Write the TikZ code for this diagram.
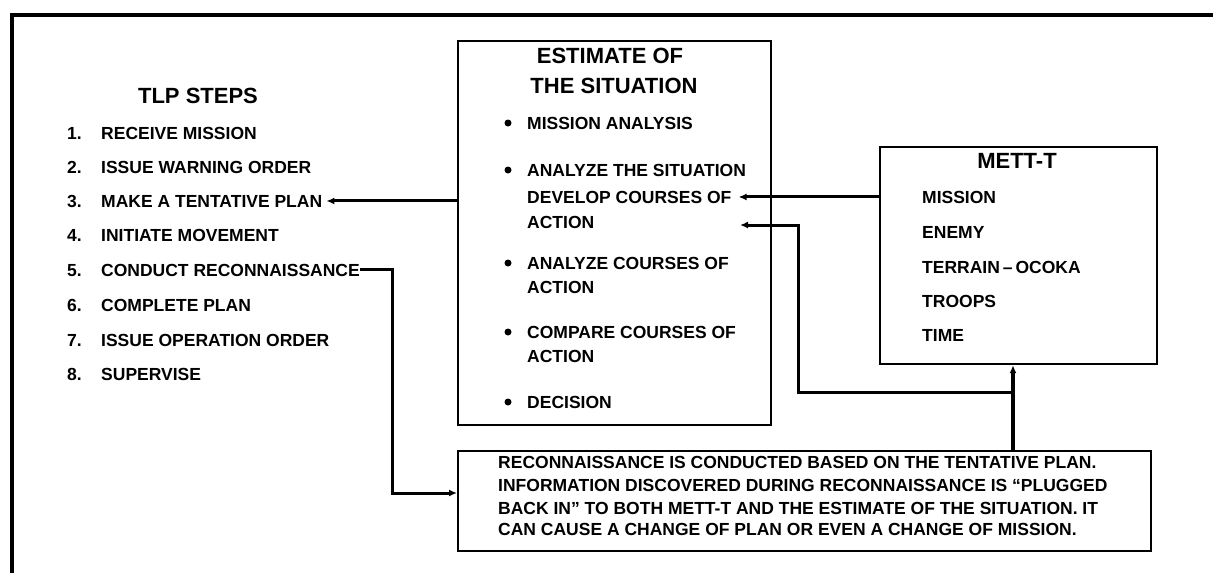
\documentclass[tikz,border=0pt]{standalone}
\usepackage{fontspec}
\setmainfont{Liberation Sans}
\usetikzlibrary{arrows.meta}
\begin{document}
\begin{tikzpicture}[x=1pt,y=-1pt,
  box/.style={draw, line width=2.2pt, inner sep=0pt, anchor=north west},
  body/.style={inner sep=0pt, anchor=base west, font=\fontsize{17.5}{21}\selectfont\bfseries},
  head/.style={inner sep=0pt, anchor=base, font=\fontsize{22}{26}\selectfont\bfseries},
  conn/.style={line width=3pt},
  arr/.style={conn, -{Latex[length=8pt,width=7pt]}},
  bul/.style={circle, fill, inner sep=0pt, minimum size=7pt}]
\useasboundingbox (0,0) rectangle (1213,573);
\fill[white] (0,0) rectangle (1213,573);
% outer frame
\draw[line width=4pt] (1220,15) -- (12,15) -- (12,580);

% TLP steps
\node[head] (tlp) at (198,103) {TLP STEPS};
\node[body] (n1) at (67,139) {1.};
\node[body] (s1) at (101,139) {RECEIVE MISSION};
\node[body] (n2) at (67,173) {2.};
\node[body] (s2) at (101,173) {ISSUE WARNING ORDER};
\node[body] (n3) at (67,207) {3.};
\node[body] (s3) at (101,207) {MAKE A TENTATIVE PLAN};
\node[body] (n4) at (67,241) {4.};
\node[body] (s4) at (101,241) {INITIATE MOVEMENT};
\node[body] (n5) at (67,276) {5.};
\node[body] (s5) at (101,276) {CONDUCT RECONNAISSANCE};
\node[body] (n6) at (67,311) {6.};
\node[body] (s6) at (101,311) {COMPLETE PLAN};
\node[body] (n7) at (67,346) {7.};
\node[body] (s7) at (101,346) {ISSUE OPERATION ORDER};
\node[body] (n8) at (67,380) {8.};
\node[body] (s8) at (101,380) {SUPERVISE};

% Estimate of the situation
\node[box, minimum width=313pt, minimum height=384pt] (est) at (457,40) {};
\node[head] (eh1) at (610,63) {ESTIMATE OF};
\node[head] (eh2) at (614,93) {THE SITUATION};
\node[bul] (b1) at (508,123) {};
\node[body] (e1) at (527,129) {MISSION ANALYSIS};
\node[bul] (b2) at (508,170) {};
\node[body] (e2a) at (527,176) {ANALYZE THE SITUATION};
\node[body] (e2b) at (527,203) {DEVELOP COURSES OF};
\node[body] (e2c) at (527,228) {ACTION};
\node[bul] (b3) at (508,263) {};
\node[body] (e3a) at (527,269) {ANALYZE COURSES OF};
\node[body] (e3b) at (527,293) {ACTION};
\node[bul] (b4) at (508,332) {};
\node[body] (e4a) at (527,338) {COMPARE COURSES OF};
\node[body] (e4b) at (527,362) {ACTION};
\node[bul] (b5) at (508,402) {};
\node[body] (e5) at (527,408) {DECISION};

% METT-T
\node[box, minimum width=277pt, minimum height=217pt] (mett) at (879,146) {};
\node[head] (mh) at (1017,168) {METT-T};
\node[body] (m1) at (922,203) {MISSION};
\node[body] (m2) at (922,238) {ENEMY};
\node[body] (m3) at (922,273) {TERRAIN\,–\,OCOKA};
\node[body] (m4) at (922,307) {TROOPS};
\node[body] (m5) at (922,341) {TIME};

% Reconnaissance box
\node[box, minimum width=693pt, minimum height=100pt] (recon) at (457,450) {};
\node[body] (r1) at (498,468) {RECONNAISSANCE IS CONDUCTED BASED ON THE TENTATIVE PLAN.};
\node[body] (r2) at (498,491) {INFORMATION DISCOVERED DURING RECONNAISSANCE IS “PLUGGED};
\node[body] (r3) at (498,514) {BACK IN” TO BOTH METT-T AND THE ESTIMATE OF THE SITUATION. IT};
\node[body] (r4) at (498,535) {CAN CAUSE A CHANGE OF PLAN OR EVEN A CHANGE OF MISSION.};

% connectors
\draw[arr, shorten >=4pt] (est.west |- s3.east) -- (s3.east);
\draw[arr] (mett.west |- e2b.east) -- ([xshift=7pt]e2b.east);
\coordinate (branch) at (1013,392);
\coordinate (tipB) at (740,225);
\draw[arr, line width=4pt] (recon.north -| branch) -- (mett.south -| branch);
\draw[arr] (branch) -| (798,225) -- (tipB);
\draw[arr] (s5.east) -| (392,493) -- (recon.west |- 0,493);
\end{tikzpicture}
\end{document}
